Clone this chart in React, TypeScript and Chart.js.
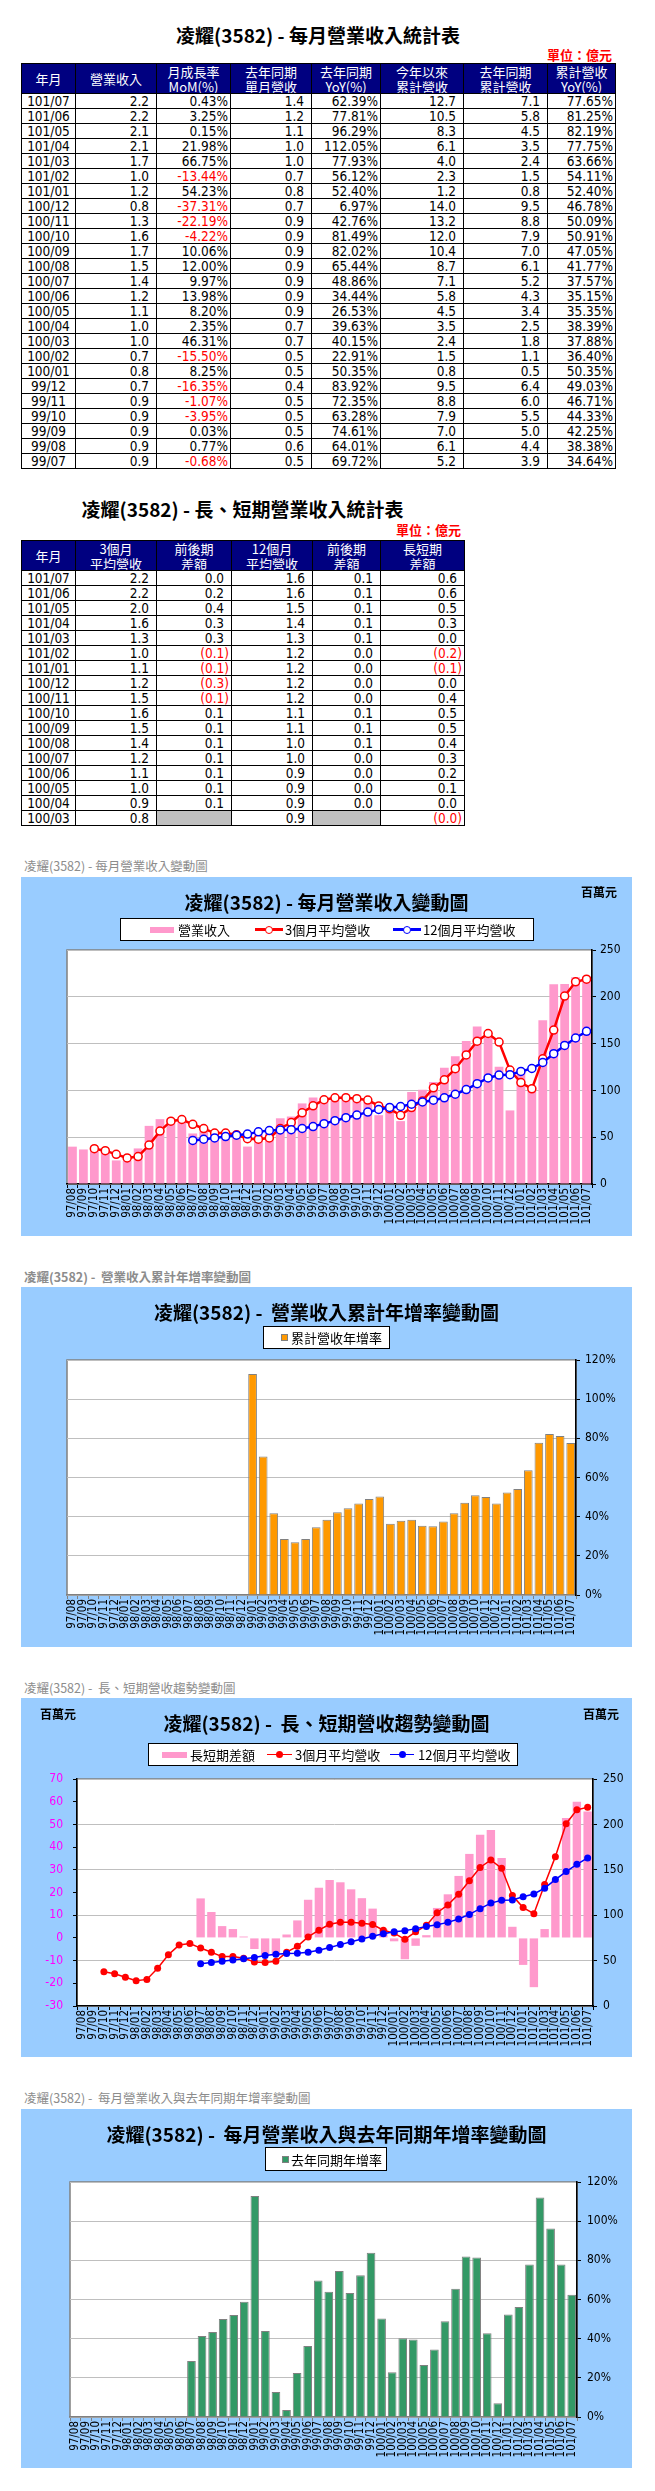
import React, { useEffect, useRef } from 'react';
import { Chart, registerables } from 'chart.js';

Chart.register(...registerables);

// ---------------- chart data (百萬元 / %) ----------------
const months = [
  '97/08', '97/09', '97/10', '97/11', '97/12',
  '98/01', '98/02', '98/03', '98/04', '98/05', '98/06', '98/07', '98/08', '98/09', '98/10', '98/11', '98/12',
  '99/01', '99/02', '99/03', '99/04', '99/05', '99/06', '99/07', '99/08', '99/09', '99/10', '99/11', '99/12',
  '100/01', '100/02', '100/03', '100/04', '100/05', '100/06', '100/07', '100/08', '100/09', '100/10', '100/11', '100/12',
  '101/01', '101/02', '101/03', '101/04', '101/05', '101/06', '101/07',
];

const revenue = [
  39.9, 36.9, 36.3, 33.5, 25.2,
  24.8, 38.0, 62.1, 69.3, 70.0, 67.4, 54.0, 56.3, 52.9, 54.4, 50.9, 40.0,
  52.9, 54.7, 70.2, 72.1, 86.1, 92.3, 91.7, 92.4, 92.4, 88.8, 87.8, 73.5,
  79.5, 67.2, 98.4, 100.7, 108.9, 124.2, 136.5, 152.9, 168.3, 161.2, 125.4, 78.6,
  121.2, 105.0, 175.0, 213.5, 213.8, 220.8, 221.7,
];

const avg3 = [
  null, null, 37.7, 35.6, 31.7,
  27.8, 29.3, 41.6, 56.5, 67.1, 68.9, 63.8, 59.2, 54.4, 54.5, 52.7, 48.4,
  47.9, 49.2, 59.3, 65.7, 76.1, 83.5, 90.0, 92.1, 92.2, 91.2, 89.7, 83.4,
  80.3, 73.4, 81.7, 88.8, 102.7, 111.3, 123.2, 137.9, 152.6, 160.8, 151.6, 121.7,
  108.4, 101.7, 133.7, 164.5, 200.8, 216.0, 218.8,
];

const avg12 = [
  null, null, null, null, null,
  null, null, null, null, null, null, 46.5, 47.8, 49.2, 50.7, 52.1, 53.3,
  55.7, 57.1, 57.8, 58.0, 59.3, 61.4, 64.5, 67.6, 70.8, 73.7, 76.8, 79.6,
  81.8, 82.8, 85.2, 87.6, 89.5, 92.1, 95.9, 100.9, 107.2, 113.3, 116.4, 116.8,
  120.3, 123.4, 129.8, 139.2, 148.0, 156.0, 163.1,
];

const spread = [
  null, null, null, null, null,
  null, null, null, null, null, null, 17.4, 11.4, 5.2, 3.9, 0.6, -4.9,
  -7.8, -7.9, 1.5, 7.7, 16.8, 22.1, 25.5, 24.5, 21.4, 17.5, 12.9, 3.8,
  -1.5, -9.4, -3.5, 1.2, 13.2, 19.2, 27.3, 37.0, 45.4, 47.5, 35.2, 4.9,
  -11.9, -21.7, 3.9, 25.3, 52.8, 60.0, 55.7,
];

const cumYoY = [
  null, null, null, null, null,
  null, null, null, null, null, null, null, null, null, null, null, null,
  112.9, 70.7, 41.8, 28.6, 27.0, 28.6, 34.64, 38.38, 42.25, 44.33, 46.71, 49.03,
  50.35, 36.4, 37.88, 38.39, 35.35, 35.15, 37.57, 41.77, 47.05, 50.91, 50.09, 46.78,
  52.4, 54.11, 63.66, 77.75, 82.19, 81.25, 77.65,
];

const yoy = [
  null, null, null, null, null,
  null, null, null, null, null, null, 28.6, 41.4, 43.4, 50.0, 52.1, 58.9,
  112.9, 43.9, 12.8, 3.6, 22.5, 36.3, 69.72, 64.01, 74.61, 63.28, 72.35, 83.92,
  50.35, 22.91, 40.15, 39.63, 26.53, 34.44, 48.86, 65.44, 82.02, 81.49, 42.76, 6.97,
  52.4, 56.12, 77.93, 112.05, 96.29, 77.81, 62.39,
];

// ---------------- table data (億元) ----------------
const t1Month = ['101/07', '101/06', '101/05', '101/04', '101/03', '101/02', '101/01', '100/12', '100/11', '100/10', '100/09', '100/08', '100/07', '100/06', '100/05', '100/04', '100/03', '100/02', '100/01', '99/12', '99/11', '99/10', '99/09', '99/08', '99/07'];
const t1Rev = ['2.2', '2.2', '2.1', '2.1', '1.7', '1.0', '1.2', '0.8', '1.3', '1.6', '1.7', '1.5', '1.4', '1.2', '1.1', '1.0', '1.0', '0.7', '0.8', '0.7', '0.9', '0.9', '0.9', '0.9', '0.9'];
const t1MoM = ['0.43%', '3.25%', '0.15%', '21.98%', '66.75%', '-13.44%', '54.23%', '-37.31%', '-22.19%', '-4.22%', '10.06%', '12.00%', '9.97%', '13.98%', '8.20%', '2.35%', '46.31%', '-15.50%', '8.25%', '-16.35%', '-1.07%', '-3.95%', '0.03%', '0.77%', '-0.68%'];
const t1LastRev = ['1.4', '1.2', '1.1', '1.0', '1.0', '0.7', '0.8', '0.7', '0.9', '0.9', '0.9', '0.9', '0.9', '0.9', '0.9', '0.7', '0.7', '0.5', '0.5', '0.4', '0.5', '0.5', '0.5', '0.6', '0.5'];
const t1YoY = ['62.39%', '77.81%', '96.29%', '112.05%', '77.93%', '56.12%', '52.40%', '6.97%', '42.76%', '81.49%', '82.02%', '65.44%', '48.86%', '34.44%', '26.53%', '39.63%', '40.15%', '22.91%', '50.35%', '83.92%', '72.35%', '63.28%', '74.61%', '64.01%', '69.72%'];
const t1Cum = ['12.7', '10.5', '8.3', '6.1', '4.0', '2.3', '1.2', '14.0', '13.2', '12.0', '10.4', '8.7', '7.1', '5.8', '4.5', '3.5', '2.4', '1.5', '0.8', '9.5', '8.8', '7.9', '7.0', '6.1', '5.2'];
const t1LastCum = ['7.1', '5.8', '4.5', '3.5', '2.4', '1.5', '0.8', '9.5', '8.8', '7.9', '7.0', '6.1', '5.2', '4.3', '3.4', '2.5', '1.8', '1.1', '0.5', '6.4', '6.0', '5.5', '5.0', '4.4', '3.9'];
const t1CumYoY = ['77.65%', '81.25%', '82.19%', '77.75%', '63.66%', '54.11%', '52.40%', '46.78%', '50.09%', '50.91%', '47.05%', '41.77%', '37.57%', '35.15%', '35.35%', '38.39%', '37.88%', '36.40%', '50.35%', '49.03%', '46.71%', '44.33%', '42.25%', '38.38%', '34.64%'];
const t1Headers = ['年月', '營業收入', '月成長率\nMoM(%)', '去年同期\n單月營收', '去年同期\nYoY(%)', '今年以來\n累計營收', '去年同期\n累計營收', '累計營收\nYoY(%)'];

const t2Month = ['101/07', '101/06', '101/05', '101/04', '101/03', '101/02', '101/01', '100/12', '100/11', '100/10', '100/09', '100/08', '100/07', '100/06', '100/05', '100/04', '100/03'];
const t2Avg3 = ['2.2', '2.2', '2.0', '1.6', '1.3', '1.0', '1.1', '1.2', '1.5', '1.6', '1.5', '1.4', '1.2', '1.1', '1.0', '0.9', '0.8'];
const t2Avg3Diff = ['0.0', '0.2', '0.4', '0.3', '0.3', '(0.1)', '(0.1)', '(0.3)', '(0.1)', '0.1', '0.1', '0.1', '0.1', '0.1', '0.1', '0.1', null];
const t2Avg12 = ['1.6', '1.6', '1.5', '1.4', '1.3', '1.2', '1.2', '1.2', '1.2', '1.1', '1.1', '1.0', '1.0', '0.9', '0.9', '0.9', '0.9'];
const t2Avg12Diff = ['0.1', '0.1', '0.1', '0.1', '0.1', '0.0', '0.0', '0.0', '0.0', '0.1', '0.1', '0.1', '0.0', '0.0', '0.0', '0.0', null];
const t2Spread = ['0.6', '0.6', '0.5', '0.3', '0.0', '(0.2)', '(0.1)', '0.0', '0.4', '0.5', '0.5', '0.4', '0.3', '0.2', '0.1', '0.0', '(0.0)'];
const t2Headers = ['年月', '3個月\n平均營收', '前後期\n差額', '12個月\n平均營收', '前後期\n差額', '長短期\n差額'];

// ---------------- styling ----------------
const FONT_CJK = '"Noto Sans CJK TC", "Noto Sans CJK SC", sans-serif';
const FONT_NUM = '"DejaVu Sans Condensed", "Liberation Sans", "Noto Sans CJK TC", sans-serif';
const BOX_BLUE = '#99CCFF';

Chart.defaults.font.family = FONT_NUM;

type Cell = string | null;

function Txt(props: { x: number; cy: number; w?: number; align?: 'left' | 'center' | 'right'; size: number; bold?: boolean; color?: string; family?: string; children: React.ReactNode }) {
  const { x, cy, w = 600, align = 'left', size, bold, color = '#000', family = FONT_CJK, children } = props;
  const lh = size + 4;
  return (
    <div
      style={{
        position: 'absolute', left: x, top: cy - lh / 2, width: w, height: lh, lineHeight: lh + 'px',
        fontSize: size, fontWeight: bold ? 'bold' : 'normal', color, fontFamily: family,
        textAlign: align, whiteSpace: 'pre',
      }}
    >
      {children}
    </div>
  );
}

function Table(props: { cols: number[]; top: number; headH: number; rowH: number; headers: string[]; columns: Cell[][] }) {
  const { cols, top, headH, rowH, headers, columns } = props;
  const cells: React.ReactNode[] = [];
  headers.forEach((h, i) => {
    cells.push(
      <div key={'h' + i} style={{
        position: 'absolute', left: cols[i], top, width: cols[i + 1] - cols[i] + 1, height: headH + 1,
        boxSizing: 'border-box', border: '1px solid #000', background: '#000080', color: '#fff',
        display: 'flex', alignItems: 'center', justifyContent: 'center', textAlign: 'center',
        whiteSpace: 'pre-line', fontFamily: FONT_CJK, fontSize: 13, lineHeight: '15px',
      }}>{h}</div>
    );
  });
  const n = columns[0].length;
  for (let r = 0; r < n; r++) {
    const y = top + headH + r * rowH;
    for (let c = 0; c < columns.length; c++) {
      const v = columns[c][r];
      const gray = v === null;
      const neg = !!v && (v.startsWith('-') || v.startsWith('('));
      const tight = !!v && (v.endsWith('%') || v.endsWith(')'));
      cells.push(
        <div key={'c' + r + '_' + c} style={{
          position: 'absolute', left: cols[c], top: y, width: cols[c + 1] - cols[c] + 1, height: rowH + 1,
          boxSizing: 'border-box', border: '1px solid #000', background: gray ? '#C0C0C0' : '#fff',
          color: neg ? '#FF0000' : '#000', display: 'flex', alignItems: 'center',
          justifyContent: c === 0 ? 'center' : 'flex-end', paddingRight: c === 0 ? 0 : (tight ? 2 : 7),
          fontFamily: FONT_NUM, fontSize: 13.5, lineHeight: '14px', whiteSpace: 'pre',
        }}>{v ?? ''}</div>
      );
    }
  }
  return <>{cells}</>;
}

type LegendItem =
  | { kind: 'rect'; x: number; w: number; h: number; color: string; border?: string }
  | { kind: 'line'; x: number; w: number; color: string; lw: number; d: number; hollow: boolean }
  | { kind: 'text'; x: number; text: string };

function Legend(props: { box: { x: number; y: number; w: number; h: number }; items: LegendItem[] }) {
  const { box, items } = props;
  const cy = box.y + box.h / 2;
  return (
    <>
      <div style={{ position: 'absolute', left: box.x, top: box.y, width: box.w, height: box.h, background: '#fff', border: '1px solid #000', boxSizing: 'border-box' }} />
      {items.map((it, i) => {
        if (it.kind === 'rect') {
          return <div key={i} style={{ position: 'absolute', left: it.x, top: cy - it.h / 2, width: it.w, height: it.h, background: it.color, boxSizing: 'border-box', border: it.border ? '1px solid ' + it.border : 'none' }} />;
        }
        if (it.kind === 'line') {
          return (
            <React.Fragment key={i}>
              <div style={{ position: 'absolute', left: it.x, top: cy - it.lw / 2, width: it.w, height: it.lw, background: it.color }} />
              <div style={{
                position: 'absolute', left: it.x + it.w / 2 - it.d / 2, top: cy - it.d / 2, width: it.d, height: it.d,
                borderRadius: '50%', boxSizing: 'border-box', background: it.hollow ? '#fff' : it.color,
                border: it.hollow ? '1.5px solid ' + it.color : 'none',
              }} />
            </React.Fragment>
          );
        }
        return <Txt key={i} x={it.x} cy={cy} size={13}>{it.text}</Txt>;
      })}
    </>
  );
}

function ChartCanvas(props: { left: number; top: number; width: number; height: number; make: () => any }) {
  const ref = useRef<HTMLCanvasElement | null>(null);
  useEffect(() => {
    if (!ref.current) return;
    const chart = new Chart(ref.current, props.make());
    return () => chart.destroy();
  }, []);
  return (
    <canvas ref={ref} width={props.width} height={props.height}
      style={{ position: 'absolute', left: props.left, top: props.top, width: props.width, height: props.height }} />
  );
}

const bgPlugin = {
  id: 'bgArea',
  beforeDraw(chart: any) {
    const { ctx, chartArea: a, width, height } = chart;
    ctx.save();
    ctx.fillStyle = BOX_BLUE;
    ctx.fillRect(0, 0, width, height);
    ctx.fillStyle = '#FFFFFF';
    ctx.fillRect(a.left, a.top, a.right - a.left, a.bottom - a.top);
    ctx.strokeStyle = '#808080';
    ctx.lineWidth = 1.5;
    ctx.strokeRect(a.left, a.top, a.right - a.left, a.bottom - a.top);
    ctx.restore();
  },
};

function makeX(h: number, color: string) {
  return {
    type: 'category',
    offset: true,
    grid: { display: true, drawOnChartArea: false, drawTicks: true, tickLength: 4, tickColor: color, color, offset: true },
    border: { display: true, color, width: 1.5 },
    ticks: { autoSkip: false, minRotation: 90, maxRotation: 90, padding: 0, color: '#000', font: { family: FONT_NUM, size: 11.5 } },
    afterFit: (s: any) => { s.height = h; },
  };
}

function makeY(position: string, w: number, min: number, max: number, step: number, fmt: (v: number) => string, pad: number, color = '#000', gridOn = true) {
  return {
    type: 'linear',
    position,
    min,
    max,
    ticks: { stepSize: step, callback: (v: any) => fmt(Number(v)), padding: pad, color, font: { family: FONT_NUM, size: 12 } },
    grid: { display: true, drawOnChartArea: gridOn, color: '#BFBFBF', lineWidth: 1, drawTicks: true, tickLength: 4, tickColor: '#000' },
    border: { display: true, color: '#000', width: 1.5 },
    afterFit: (s: any) => { s.width = w; },
  };
}

const baseOptions = (padding: any) => ({
  animation: false,
  responsive: false,
  maintainAspectRatio: false,
  devicePixelRatio: 1,
  events: [],
  layout: { padding },
  plugins: { legend: { display: false }, tooltip: { enabled: false }, title: { display: false } },
});

const makeChart1 = () => ({
  type: 'bar',
  data: {
    labels: months,
    datasets: [
      { type: 'line', label: '12個月平均營收', data: avg12, borderColor: '#0000FF', borderWidth: 2.5, pointRadius: 4, pointBackgroundColor: '#FFFFFF', pointBorderColor: '#0000FF', pointBorderWidth: 1.5, tension: 0, order: 1, yAxisID: 'y' },
      { type: 'line', label: '3個月平均營收', data: avg3, borderColor: '#FF0000', borderWidth: 2.5, pointRadius: 4, pointBackgroundColor: '#FFFFFF', pointBorderColor: '#FF0000', pointBorderWidth: 1.5, tension: 0, order: 2, yAxisID: 'y' },
      { type: 'bar', label: '營業收入', data: revenue, backgroundColor: '#FF99CC', barPercentage: 0.8, categoryPercentage: 1, order: 3, yAxisID: 'y' },
    ],
  },
  options: {
    ...baseOptions({ left: 46, top: 73, right: 0, bottom: 0 }),
    scales: { x: makeX(52, '#000'), y: makeY('right', 40, 0, 250, 50, (v) => String(v), 4) },
  },
  plugins: [bgPlugin],
});

const makeChart2 = () => ({
  type: 'bar',
  data: {
    labels: months,
    datasets: [
      { label: '累計營收年增率', data: cumYoY, backgroundColor: '#FF9900', borderColor: '#808080', borderWidth: 1, barPercentage: 0.82, categoryPercentage: 1 },
    ],
  },
  options: {
    ...baseOptions({ left: 46, top: 73, right: 0, bottom: 0 }),
    scales: { x: makeX(52, '#808080'), y: makeY('right', 56, 0, 120, 20, (v) => v + '%', 5) },
  },
  plugins: [bgPlugin],
});

const makeChart3 = () => ({
  type: 'bar',
  data: {
    labels: months,
    datasets: [
      { type: 'line', label: '12個月平均營收', data: avg12, borderColor: '#0000FF', borderWidth: 1.5, pointRadius: 3.5, pointBackgroundColor: '#0000FF', pointBorderColor: '#0000FF', pointBorderWidth: 0, tension: 0, order: 1, yAxisID: 'yR' },
      { type: 'line', label: '3個月平均營收', data: avg3, borderColor: '#FF0000', borderWidth: 1.5, pointRadius: 3.5, pointBackgroundColor: '#FF0000', pointBorderColor: '#FF0000', pointBorderWidth: 0, tension: 0, order: 2, yAxisID: 'yR' },
      { type: 'bar', label: '長短期差額', data: spread, backgroundColor: '#FF99CC', barPercentage: 0.78, categoryPercentage: 1, order: 3, yAxisID: 'yL' },
    ],
  },
  options: {
    ...baseOptions({ left: 0, top: 81, right: 0, bottom: 0 }),
    scales: {
      x: makeX(51, '#000'),
      yL: makeY('left', 56, -30, 70, 10, (v) => String(v), 10, '#FF00FF', false),
      yR: makeY('right', 39, 0, 250, 50, (v) => String(v), 6),
    },
  },
  plugins: [bgPlugin],
});

const makeChart4 = () => ({
  type: 'bar',
  data: {
    labels: months,
    datasets: [
      { label: '去年同期年增率', data: yoy, backgroundColor: '#339966', borderColor: '#808080', borderWidth: 1, barPercentage: 0.82, categoryPercentage: 1 },
    ],
  },
  options: {
    ...baseOptions({ left: 49, top: 73, right: 0, bottom: 0 }),
    scales: { x: makeX(51, '#808080'), y: makeY('right', 55, 0, 120, 20, (v) => v + '%', 6) },
  },
  plugins: [bgPlugin],
});

const GRAY = '#8C8C8C';

export default function App() {
  return (
    <div style={{ position: 'absolute', left: 0, top: 0, width: 655, height: 2491, background: '#fff', overflow: 'hidden' }}>
      {/* Table 1 */}
      <Txt x={21} w={594} align="center" cy={34} size={19} bold>凌耀(3582) - 每月營業收入統計表</Txt>
      <Txt x={452} w={160} align="right" cy={54} size={13} bold color="#FF0000">單位：億元</Txt>
      <Table cols={[21, 75, 156, 230, 311, 380, 463, 547, 615]} top={63} headH={30} rowH={15}
        headers={t1Headers}
        columns={[t1Month, t1Rev, t1MoM, t1LastRev, t1YoY, t1Cum, t1LastCum, t1CumYoY]} />

      {/* Table 2 */}
      <Txt x={21} w={443} align="center" cy={508} size={19} bold>凌耀(3582) - 長、短期營業收入統計表</Txt>
      <Txt x={300} w={161} align="right" cy={529} size={13} bold color="#FF0000">單位：億元</Txt>
      <Table cols={[21, 75, 156, 231, 312, 380, 464]} top={540} headH={30} rowH={15}
        headers={t2Headers}
        columns={[t2Month, t2Avg3, t2Avg3Diff, t2Avg12, t2Avg12Diff, t2Spread]} />

      {/* Chart 1 */}
      <Txt x={24} cy={866} size={12.5} color={GRAY}>凌耀(3582) - 每月營業收入變動圖</Txt>
      <ChartCanvas left={21} top={877} width={611} height={359} make={makeChart1} />
      <Txt x={21} w={611} align="center" cy={901} size={19} bold>凌耀(3582) - 每月營業收入變動圖</Txt>
      <Txt x={581} cy={892} size={12} bold>百萬元</Txt>
      <Legend box={{ x: 120, y: 918, w: 414, h: 23 }} items={[
        { kind: 'rect', x: 150, w: 24, h: 6, color: '#FF99CC' },
        { kind: 'text', x: 178, text: '營業收入' },
        { kind: 'line', x: 255, w: 28, color: '#FF0000', lw: 2.5, d: 8, hollow: true },
        { kind: 'text', x: 285, text: '3個月平均營收' },
        { kind: 'line', x: 393, w: 28, color: '#0000FF', lw: 2.5, d: 8, hollow: true },
        { kind: 'text', x: 423, text: '12個月平均營收' },
      ]} />

      {/* Chart 2 */}
      <Txt x={24} cy={1277} size={12.5} bold color={GRAY}>凌耀(3582) -  營業收入累計年增率變動圖</Txt>
      <ChartCanvas left={21} top={1287} width={611} height={360} make={makeChart2} />
      <Txt x={21} w={611} align="center" cy={1311} size={19} bold>凌耀(3582) -  營業收入累計年增率變動圖</Txt>
      <Legend box={{ x: 263, y: 1326, w: 127, h: 23 }} items={[
        { kind: 'rect', x: 281, w: 7, h: 7, color: '#FF9900', border: '#808080' },
        { kind: 'text', x: 291, text: '累計營收年增率' },
      ]} />

      {/* Chart 3 */}
      <Txt x={24} cy={1688} size={12.5} color={GRAY}>凌耀(3582) -  長、短期營收趨勢變動圖</Txt>
      <ChartCanvas left={21} top={1698} width={611} height={359} make={makeChart3} />
      <Txt x={21} w={611} align="center" cy={1722} size={19} bold>凌耀(3582) -  長、短期營收趨勢變動圖</Txt>
      <Txt x={40} cy={1714} size={12} bold>百萬元</Txt>
      <Txt x={583} cy={1714} size={12} bold>百萬元</Txt>
      <Legend box={{ x: 148, y: 1743, w: 370, h: 23 }} items={[
        { kind: 'rect', x: 162, w: 25, h: 6, color: '#FF99CC' },
        { kind: 'text', x: 190, text: '長短期差額' },
        { kind: 'line', x: 267, w: 25, color: '#FF0000', lw: 1.5, d: 7, hollow: false },
        { kind: 'text', x: 295, text: '3個月平均營收' },
        { kind: 'line', x: 390, w: 24, color: '#0000FF', lw: 1.5, d: 7, hollow: false },
        { kind: 'text', x: 418, text: '12個月平均營收' },
      ]} />

      {/* Chart 4 */}
      <Txt x={24} cy={2098} size={12.5} color={GRAY}>凌耀(3582) -  每月營業收入與去年同期年增率變動圖</Txt>
      <ChartCanvas left={21} top={2109} width={611} height={359} make={makeChart4} />
      <Txt x={21} w={611} align="center" cy={2133} size={19} bold>凌耀(3582) -  每月營業收入與去年同期年增率變動圖</Txt>
      <Legend box={{ x: 265, y: 2147, w: 122, h: 24 }} items={[
        { kind: 'rect', x: 282, w: 7, h: 7, color: '#339966', border: '#808080' },
        { kind: 'text', x: 291, text: '去年同期年增率' },
      ]} />
    </div>
  );
}
